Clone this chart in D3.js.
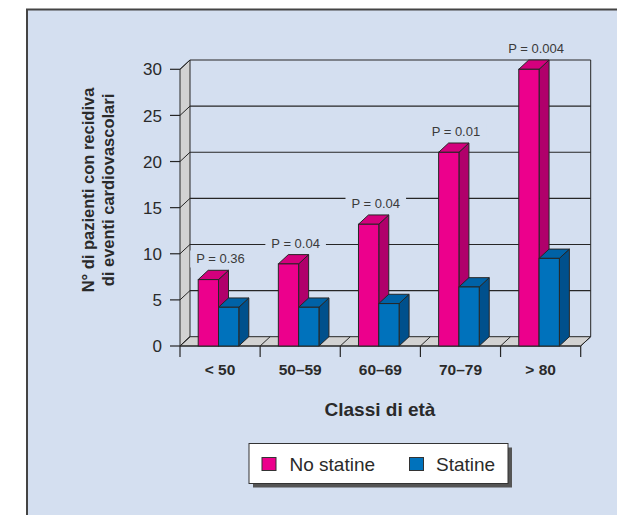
<!DOCTYPE html>
<html>
<head>
<meta charset="utf-8">
<script src="https://cdn.jsdelivr.net/npm/d3@7"></script>
<style>
  html, body { margin: 0; padding: 0; background: #ffffff; }
  svg { display: block; font-family: "Liberation Sans", Arial, sans-serif; }
</style>
</head>
<body>
<svg id="chart" width="617" height="515"></svg>
<script>
// Age classes and recurrence counts
const categories = ["< 50", "50–59", "60–69", "70–79", "> 80"];
const noStatine = [7.2, 8.9, 13.2, 21, 30];
const statine = [4.2, 4.2, 4.6, 6.4, 9.5];
const pValues = ["P = 0.36", "P = 0.04", "P = 0.04", "P = 0.01", "P = 0.004"];
const yTicks = [0, 5, 10, 15, 20, 25, 30];
const seriesNames = ["No statine", "Statine"];

const colors = {
  bg: "#d4dff0",
  pink: { front: "#ec008c", side: "#b0006b", top: "#d4007d" },
  blue: { front: "#0072bc", side: "#00508c", top: "#0062a6" },
  wall: "#d2d2d2",
  line: "#262626"
};

const svg = d3.select("#chart");

// Panel background
svg.append("rect")
  .attr("x", 27).attr("y", 9.5)
  .attr("width", 640).attr("height", 540)
  .attr("fill", colors.bg)
  .attr("stroke", "#444").attr("stroke-width", 2);

// 3D geometry
const depthX = 10, depthY = -9.3;
const x = d3.scaleBand().domain(categories).range([180, 580.7]).paddingInner(0).paddingOuter(0);
const y = d3.scaleLinear().domain([0, 30]).range([346, 69.3]);
const barW = 20.3;
const barOffset = 18.2;

const g = svg.append("g");
const x0 = x.range()[0], x1 = x.range()[1];
const pts = arr => arr.map(p => p.join(",")).join(" ");

// Left wall
g.append("polygon")
  .attr("points", pts([[x0, y(0)], [x0 + depthX, y(0) + depthY], [x0 + depthX, y(30) + depthY], [x0, y(30)]]))
  .attr("fill", colors.wall).attr("stroke", colors.line).attr("stroke-width", 1);

// Floor
g.append("polygon")
  .attr("points", pts([[x0, y(0)], [x1, y(0)], [x1 + depthX, y(0) + depthY], [x0 + depthX, y(0) + depthY]]))
  .attr("fill", colors.wall).attr("stroke", colors.line).attr("stroke-width", 1);

// Gridlines on back wall + diagonals on left wall
yTicks.filter(v => v > 0).forEach(v => {
  g.append("line")
    .attr("x1", x0 + depthX).attr("x2", x1 + depthX)
    .attr("y1", y(v) + depthY).attr("y2", y(v) + depthY)
    .attr("stroke", colors.line).attr("stroke-width", 1.1);
  g.append("line")
    .attr("x1", x0).attr("y1", y(v))
    .attr("x2", x0 + depthX).attr("y2", y(v) + depthY)
    .attr("stroke", colors.line).attr("stroke-width", 1);
});

// Right edge of back wall
g.append("line")
  .attr("x1", x1 + depthX).attr("x2", x1 + depthX)
  .attr("y1", y(30) + depthY).attr("y2", y(0) + depthY)
  .attr("stroke", colors.line).attr("stroke-width", 1);

// Floor diagonals and category ticks at band boundaries
const boundaries = categories.map(c => x(c)).concat([x1]);
boundaries.forEach(bx => {
  g.append("line")
    .attr("x1", bx).attr("y1", y(0))
    .attr("x2", bx + depthX).attr("y2", y(0) + depthY)
    .attr("stroke", colors.line).attr("stroke-width", 1);
  g.append("line")
    .attr("x1", bx).attr("y1", y(0))
    .attr("x2", bx).attr("y2", y(0) + 11)
    .attr("stroke", colors.line).attr("stroke-width", 1.2);
});

// Front axis line
g.append("line")
  .attr("x1", x0).attr("x2", x1).attr("y1", y(0)).attr("y2", y(0))
  .attr("stroke", colors.line).attr("stroke-width", 1);

// Y ticks and labels
const yAxis = svg.append("g");
yTicks.forEach(v => {
  yAxis.append("line")
    .attr("x1", x0 - 10).attr("x2", x0)
    .attr("y1", y(v)).attr("y2", y(v))
    .attr("stroke", colors.line).attr("stroke-width", 1.2);
  yAxis.append("text")
    .attr("x", x0 - 18).attr("y", y(v))
    .attr("dy", "0.36em")
    .attr("text-anchor", "end")
    .attr("font-size", 17)
    .attr("fill", "#2a2a2a")
    .text(v);
});

// P-value labels (with background patch hiding the gridline behind)
const labels = svg.append("g");
categories.forEach((c, i) => {
  const cx = x(c) + barOffset + barW + depthX / 2 - 8 + (i === 0 ? 5 : 0);
  const cy = y(noStatine[i]) + depthY - 11.5;
  const t = labels.append("text")
    .attr("x", cx).attr("y", cy)
    .attr("dy", "0.36em")
    .attr("text-anchor", "middle")
    .attr("font-size", 13)
    .attr("fill", "#3a3a3a")
    .text(pValues[i]);
  const bb = t.node().getBBox();
  labels.insert("rect", "text")
    .attr("x", bb.x - 6).attr("y", bb.y - 1)
    .attr("width", bb.width + 12).attr("height", bb.height + 2)
    .attr("fill", colors.bg);
});

// 3D bars
function bar3d(sel, bx, val, pal) {
  const top = y(val), bottom = y(0);
  sel.append("polygon")
    .attr("points", pts([[bx + barW, top], [bx + barW + depthX, top + depthY], [bx + barW + depthX, bottom + depthY], [bx + barW, bottom]]))
    .attr("fill", pal.side).attr("stroke", colors.line).attr("stroke-width", 1).attr("stroke-linejoin", "round");
  sel.append("polygon")
    .attr("points", pts([[bx, top], [bx + depthX, top + depthY], [bx + barW + depthX, top + depthY], [bx + barW, top]]))
    .attr("fill", pal.top).attr("stroke", colors.line).attr("stroke-width", 1).attr("stroke-linejoin", "round");
  sel.append("rect")
    .attr("x", bx).attr("y", top)
    .attr("width", barW).attr("height", bottom - top)
    .attr("fill", pal.front).attr("stroke", colors.line).attr("stroke-width", 1);
}

const bars = svg.append("g");
categories.forEach((c, i) => {
  const bx = x(c) + barOffset;
  bar3d(bars, bx, noStatine[i], colors.pink);
  bar3d(bars, bx + barW, statine[i], colors.blue);
});

// Category labels
categories.forEach(c => {
  svg.append("text")
    .attr("x", x(c) + x.bandwidth() / 2)
    .attr("y", 374.5)
    .attr("text-anchor", "middle")
    .attr("font-size", 15.5)
    .attr("font-weight", "bold")
    .attr("fill", "#2a2a2a")
    .text(c);
});

// X axis title
svg.append("text")
  .attr("x", 380).attr("y", 416)
  .attr("text-anchor", "middle")
  .attr("font-size", 19)
  .attr("font-weight", "bold")
  .attr("fill", "#2a2a2a")
  .text("Classi di età");

// Y axis title (two lines)
const yTitle = svg.append("text")
  .attr("transform", "translate(0,190) rotate(-90)")
  .attr("text-anchor", "middle")
  .attr("font-size", 16.5)
  .attr("font-weight", "bold")
  .attr("fill", "#2a2a2a");
yTitle.append("tspan").attr("x", 0).attr("y", 93.5).text("N° di pazienti con recidiva");
yTitle.append("tspan").attr("x", 0).attr("y", 113.5).text("di eventi cardiovascolari");

// Legend
const legend = svg.append("g");
legend.append("rect")
  .attr("x", 253).attr("y", 447.5).attr("width", 259).attr("height", 40)
  .attr("fill", "#555");
legend.append("rect")
  .attr("x", 249).attr("y", 443.5).attr("width", 259).attr("height", 40)
  .attr("fill", "#ffffff").attr("stroke", "#333").attr("stroke-width", 1);
const legendItems = [
  { name: seriesNames[0], color: colors.pink.front, sx: 262, tx: 289.5 },
  { name: seriesNames[1], color: colors.blue.front, sx: 409.5, tx: 436 }
];
legendItems.forEach(d => {
  legend.append("rect")
    .attr("x", d.sx).attr("y", 457.5).attr("width", 14).attr("height", 13)
    .attr("fill", d.color).attr("stroke", "#333").attr("stroke-width", 1);
  legend.append("text")
    .attr("x", d.tx).attr("y", 470.7)
    .attr("font-size", 19)
    .attr("fill", "#2a2a2a")
    .text(d.name);
});
</script>
</body>
</html>
